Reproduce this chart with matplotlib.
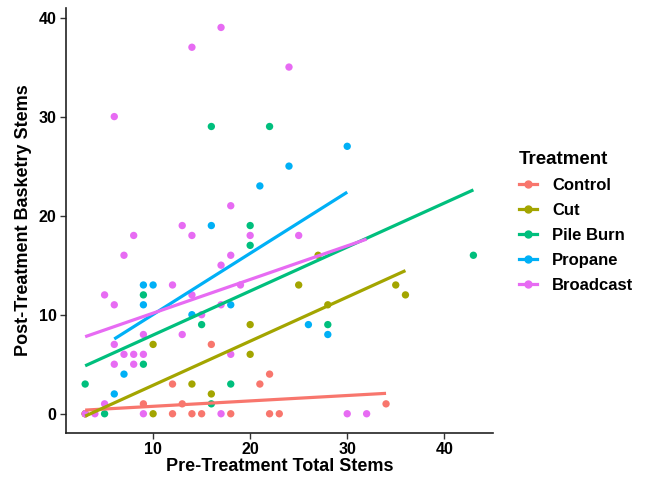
import matplotlib.pyplot as plt
import numpy as np
from matplotlib.lines import Line2D

plt.rcParams['font.family'] = ['Liberation Sans', 'DejaVu Sans']
plt.rcParams['font.weight'] = 'bold'

# Data: (pre-treatment total stems, post-treatment basketry stems) per treatment
treatments = ['Control', 'Cut', 'Pile Burn', 'Propane', 'Broadcast']
colors = ['#F8766D', '#A3A500', '#00BF7D', '#00B0F6', '#E76BF3']

control_x = [3, 9, 12, 12, 13, 14, 15, 16, 18, 21, 22, 22, 23, 34]
control_y = [0, 1, 0, 3, 1, 0, 0, 7, 0, 3, 0, 4, 0, 1]

cut_x = [3, 10, 10, 14, 16, 20, 20, 25, 27, 28, 35, 36]
cut_y = [0, 0, 7, 3, 2, 6, 9, 13, 16, 11, 13, 12]

pile_x = [3, 5, 9, 9, 15, 16, 16, 18, 20, 20, 22, 28, 43]
pile_y = [3, 0, 5, 12, 9, 1, 29, 3, 17, 19, 29, 9, 16]

propane_x = [6, 7, 9, 9, 10, 14, 16, 18, 21, 24, 26, 28, 30]
propane_y = [2, 4, 11, 13, 13, 10, 19, 11, 23, 25, 9, 8, 27]

broadcast_x = [3, 4, 5, 5, 6, 6, 6, 6, 7, 7, 8, 8, 8, 9, 9, 9, 12, 13, 13, 14,
               14, 14, 15, 17, 17, 17, 17, 18, 18, 18, 19, 20, 24, 25, 30, 32]
broadcast_y = [0, 0, 1, 12, 5, 7, 11, 30, 6, 16, 5, 6, 18, 0, 6, 8, 13, 8, 19, 12,
               18, 37, 10, 0, 11, 15, 39, 6, 16, 21, 13, 18, 35, 18, 0, 0]

# linear trend lines (value at min x and at max x)
fit_start = [0.37, -0.24, 4.84, 7.55, 7.78]
fit_end = [2.06, 14.45, 22.6, 22.37, 17.63]

groups = [(control_x, control_y), (cut_x, cut_y), (pile_x, pile_y),
          (propane_x, propane_y), (broadcast_x, broadcast_y)]

fig = plt.figure(figsize=(6.51, 4.78), dpi=100)
ax = fig.add_axes([0.101, 0.094, 0.656, 0.889])

# points first, then the trend lines (like geom_point + geom_smooth)
for (x, y), c in zip(groups, colors):
    ax.scatter(x, y, s=28, color=c, edgecolors='none', zorder=2)

for (x, y), c, y0, y1 in zip(groups, colors, fit_start, fit_end):
    ax.plot([min(x), max(x)], [y0, y1], color=c, lw=2.3, zorder=3,
            solid_capstyle='butt')

ax.set_xlim(1, 45)
ax.set_ylim(-1.95, 40.95)
ax.set_xticks([10, 20, 30, 40])
ax.set_yticks([0, 10, 20, 30, 40])

for s in ['top', 'right']:
    ax.spines[s].set_visible(False)
for s in ['left', 'bottom']:
    ax.spines[s].set_linewidth(1.2)
    ax.spines[s].set_color('#222222')
ax.tick_params(axis='both', length=4, width=1.0, color='#333333', pad=2.5,
               labelsize=11.5, labelcolor='black')
for lab in ax.get_xticklabels() + ax.get_yticklabels():
    lab.set_fontweight('bold')

ax.set_xlabel('Pre-Treatment Total Stems', fontsize=13, fontweight='bold', labelpad=1)
ax.set_ylabel('Post-Treatment Basketry Stems', fontsize=13, fontweight='bold', labelpad=5)

handles = [Line2D([0], [0], color=c, lw=2.3, marker='o', markersize=5)
           for c in colors]
leg = fig.legend(handles, treatments, loc='center left', bbox_to_anchor=(0.787, 0.535),
                 frameon=False, fontsize=12, handlelength=1.1, handletextpad=0.9,
                 labelspacing=0.6, title='Treatment', borderaxespad=0,
                 title_fontproperties={'size': 13.5, 'weight': 'bold'})
leg._legend_box.align = 'left'

fig.savefig('out.png', dpi=100)
